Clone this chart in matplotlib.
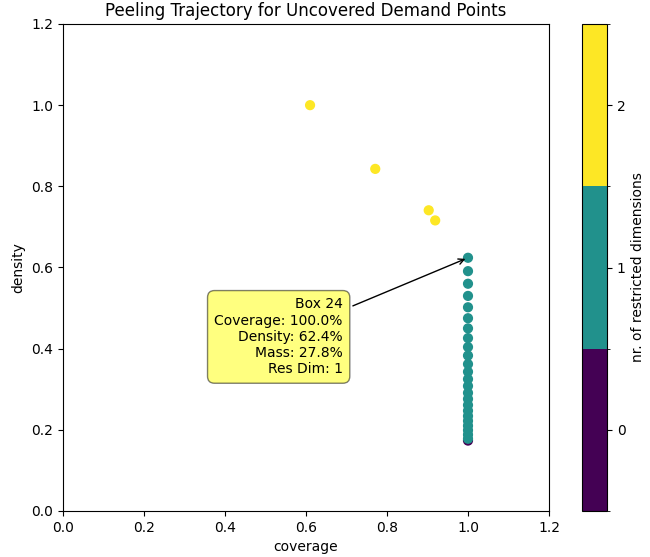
import matplotlib
matplotlib.use("Agg")
import matplotlib.pyplot as plt
import matplotlib as mpl
import numpy as np

coverage = [1.0] * 25 + [0.919, 0.903, 0.771, 0.610]
density = [0.1735, 0.178, 0.188, 0.199, 0.210, 0.222, 0.234, 0.247, 0.261,
           0.276, 0.291, 0.308, 0.325, 0.343, 0.362, 0.383, 0.404, 0.426,
           0.450, 0.475, 0.502, 0.530, 0.560, 0.591, 0.624,
           0.716, 0.741, 0.843, 1.000]
res_dim = [0] + [1] * 24 + [2, 2, 2, 2]

box_id = 24
box_mass = 27.8
ticks = [0, 1, 2]

fig = plt.figure(figsize=(6.5, 5.57), dpi=100)
W, H = 650, 557
ax = fig.add_axes([63 / W, 1 - 511 / H, (549 - 63) / W, (511 - 24) / H])
cax = fig.add_axes([582 / W, 1 - 511 / H, (607 - 582) / W, (511 - 24) / H])

cmap = mpl.colors.ListedColormap(plt.get_cmap('viridis')(np.linspace(0, 1, 3)))
norm = mpl.colors.BoundaryNorm([-0.5, 0.5, 1.5, 2.5], cmap.N)

ax.scatter(coverage, density, c=res_dim, cmap=cmap, norm=norm, s=40, zorder=3)
ax.set_xlim(0, 1.2)
ax.set_ylim(0, 1.2)
ax.set_xlabel('coverage')
ax.set_ylabel('density')
ax.set_title('Peeling Trajectory for Uncovered Demand Points')

cb = fig.colorbar(mpl.cm.ScalarMappable(norm=norm, cmap=cmap), cax=cax, ticks=ticks)
cb.set_label('nr. of restricted dimensions')

txt = ('Box {}\nCoverage: {:.1f}%\nDensity: {:.1f}%\nMass: {:.1f}%\nRes Dim: {}'
       .format(box_id, coverage[box_id] * 100, density[box_id] * 100,
               box_mass, res_dim[box_id]))
ax.annotate(txt, xy=(coverage[box_id], density[box_id]), xytext=(0.691, 0.429),
            textcoords='data', ha='right', va='center', multialignment='right',
            bbox=dict(boxstyle='round,pad=0.5', fc='yellow', alpha=0.5),
            arrowprops=dict(arrowstyle='->', connectionstyle='arc3,rad=0'),
            zorder=4)

fig.savefig('out.png', dpi=100)
